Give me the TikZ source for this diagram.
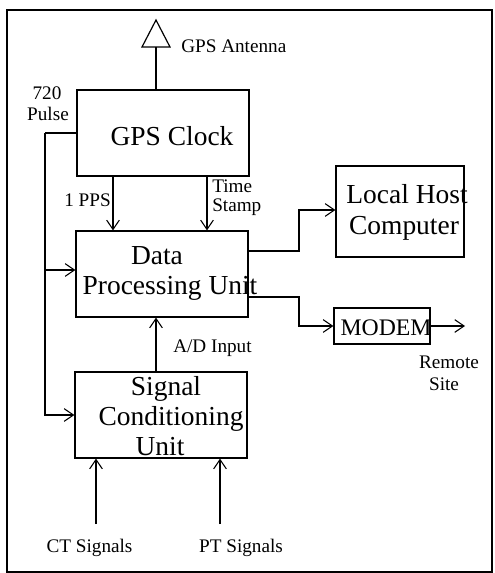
\documentclass[tikz,border=0pt]{standalone}
\usepackage{fontspec}
\setmainfont{Liberation Serif}
\usetikzlibrary{arrows.meta,calc}

\tikzset{
  frame/.style={line width=1.1pt},
  box/.style={draw, line width=0.9pt, inner sep=0pt, rectangle},
  wire/.style={line width=0.9pt},
  arr/.style={wire, -{Straight Barb[length=7pt,width=9.5pt,line width=0.8pt]}},
  big/.style={inner sep=0pt, font=\fontsize{20.6}{24}\selectfont},
  mid/.style={inner sep=0pt, font=\fontsize{17.8}{21}\selectfont},
  small/.style={inner sep=0pt, font=\fontsize{14.4}{17}\selectfont},
}

\begin{document}
\begin{tikzpicture}[x=0.75pt,y=-0.75pt]
  \useasboundingbox (0,0) rectangle (494,573);
  \draw[frame] (7,10) rectangle (492,572);

  % blocks
  \node[box, minimum width=129pt, minimum height=64.5pt] (gps)   at (163,133)   {};
  \node[box, minimum width=129pt, minimum height=64.5pt] (dpu)   at (162,274)   {};
  \node[box, minimum width=129pt, minimum height=64.5pt] (scu)   at (161,415)   {};
  \node[box, minimum width=96pt,  minimum height=68.25pt] (lhc)  at (400,211.5) {};
  \node[box, minimum width=72pt,  minimum height=27pt]   (modem) at (382,326)   {};

  % block captions
  \node[big, anchor=base] (tgps)  at (172,146) {GPS Clock};
  \node[big, anchor=base] (tdpu1) at (157,264) {Data};
  \node[big, anchor=base] (tdpu2) at (170,294) {Processing Unit};
  \node[big, anchor=base] (tscu1) at (166,395) {Signal};
  \node[big, anchor=base] (tscu2) at (171,425) {Conditioning};
  \node[big, anchor=base] (tscu3) at (160,455) {Unit};
  \node[big, anchor=base] (tlhc1) at (407,204) {Local Host};
  \node[big, anchor=base] (tlhc2) at (404,234) {Computer};
  \node[mid, anchor=base] (tmod)  at (386,335) {MODEM};

  % antenna
  \coordinate (anttip) at (156,20);
  \coordinate (antbase) at (156,47);
  \draw[wire] (anttip) -- (170,47) -- (142,47) -- cycle;
  \draw[wire] (antbase) -- (antbase |- gps.north);
  \node[small, anchor=base west] (lant) at (181,53) {GPS Antenna};

  % 720 pulse distribution
  \coordinate (p1) at (45,133);
  \coordinate (p2) at (45,270);
  \draw[wire] (gps.west) -- (p1);
  \draw[arr] (p1) |- (scu.west);
  \draw[arr] (p2) -- (p2 -| dpu.west);
  \node[small, anchor=base] (l720)   at (47,100) {720};
  \node[small, anchor=base] (lpulse) at (48,121) {Pulse};

  % clock outputs
  \coordinate (ppsx) at (113,0);
  \coordinate (tsx)  at (207,0);
  \draw[arr] (gps.south -| ppsx) -- (dpu.north -| ppsx);
  \draw[arr] (gps.south -| tsx)  -- (dpu.north -| tsx);
  \node[small, anchor=base east] (lpps)   at (111,207) {1 PPS};
  \node[small, anchor=base west] (ltime)  at (212,193) {Time};
  \node[small, anchor=base west] (lstamp) at (212,212) {Stamp};

  % processing unit outputs
  \coordinate (h1) at (299,251);
  \coordinate (h2) at (299,210);
  \draw[arr] (h1 -| dpu.east) -- (h1) -- (h2) -- (h2 -| lhc.west);
  \coordinate (m1) at (299,297);
  \draw[arr] (m1 -| dpu.east) -- (m1) |- (modem.west);
  \coordinate (remote) at (465,326);
  \draw[arr] (modem.east) -- (remote);
  \node[small, anchor=base] (lrem)  at (449,368) {Remote};
  \node[small, anchor=base] (lsite) at (444,390) {Site};

  % A/D path
  \coordinate (adx) at (156,0);
  \draw[arr] (scu.north -| adx) -- (dpu.south -| adx);
  \node[small, anchor=base west] (lad) at (173,352) {A/D Input};

  % analogue inputs
  \coordinate (ct) at (96,524);
  \coordinate (pt) at (220,524);
  \draw[arr] (ct) -- (ct |- scu.south);
  \draw[arr] (pt) -- (pt |- scu.south);
  \node[small, anchor=base] (lct) at (89.5,552) {CT Signals};
  \node[small, anchor=base] (lpt) at (241,552) {PT Signals};
\end{tikzpicture}
\end{document}
